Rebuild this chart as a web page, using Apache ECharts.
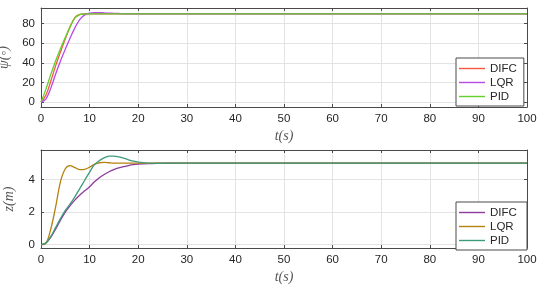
<!DOCTYPE html>
<html>
<head>
<meta charset="utf-8">
<script src="https://cdn.jsdelivr.net/npm/echarts@6/dist/echarts.min.js"></script>
<style>
  html, body { margin: 0; padding: 0; background: #fff; }
  #main { width: 550px; height: 294px; }
</style>
</head>
<body>
<div id="main"></div>
<script>
// time samples (s)
const t = [0, 1, 2, 3, 4, 5, 6, 7, 8, 9, 10, 11, 12, 13, 14, 15, 16, 17, 18, 19, 20,
  22, 24, 26, 28, 30, 40, 50, 60, 70, 80, 90, 100];

// heading psi (deg)
const psiDIFC = [0, 7, 21, 37, 51, 64.5, 77, 86.5, 89.5, 90, 90, 90, 90, 90, 90, 90, 90, 90, 90, 90, 90,
  90, 90, 90, 90, 90, 90, 90, 90, 90, 90, 90, 90];
const psiLQR = [0, 3, 14, 28.5, 42, 54, 65.5, 76, 84.5, 89, 90.8, 91.3, 91.3, 91, 90.8, 90.6, 90.4, 90.2, 90.1, 90, 90,
  90, 90, 90, 90, 90, 90, 90, 90, 90, 90, 90, 90];
const psiPID = [0, 13, 28, 42, 54.5, 66, 77, 86, 89.3, 90, 90, 90, 90, 90, 90, 90, 90, 90, 90, 90, 90,
  90, 90, 90, 90, 90, 90, 90, 90, 90, 90, 90, 90];

// depth z (m)
const zDIFC = [0, 0.1, 0.45, 0.95, 1.5, 2.0, 2.4, 2.75, 3.05, 3.3, 3.55, 3.85, 4.1, 4.3, 4.47, 4.6, 4.7, 4.78, 4.85, 4.9, 4.93,
  4.97, 4.99, 5, 5, 5, 5, 5, 5, 5, 5, 5, 5];
const zLQR = [0, 0.08, 0.95, 2.3, 3.85, 4.65, 4.84, 4.72, 4.6, 4.62, 4.75, 4.92, 5.02, 5.04, 5.02, 5.0, 5, 5, 5, 5, 5,
  5, 5, 5, 5, 5, 5, 5, 5, 5, 5, 5, 5];
const zPID = [0, 0.1, 0.5, 1.05, 1.6, 2.1, 2.5, 2.95, 3.45, 3.95, 4.45, 4.9, 5.15, 5.32, 5.42, 5.43, 5.38, 5.3, 5.2, 5.12, 5.06,
  5.0, 4.98, 4.99, 5, 5, 5, 5, 5, 5, 5, 5, 5];

const frame = '#4a4a4a';
const labelFont = { color: '#262626', fontSize: 11.5, fontFamily: 'Liberation Sans, Arial, sans-serif' };
const nameFont = { color: '#555', fontSize: 14, fontStyle: 'italic', fontFamily: 'Liberation Serif, DejaVu Serif, serif' };

function pairs(vals) {
  return t.map((x, i) => [x, vals[i]]);
}

function xAxes(gi) {
  return [
    {
      type: 'value', gridIndex: gi, min: 0, max: 100, interval: 10, position: 'bottom',
      name: 't(s)', nameLocation: 'middle', nameGap: 22, nameTextStyle: nameFont,
      axisLine: { show: true, onZero: false, lineStyle: { color: frame } },
      axisTick: { show: true, inside: true, length: 3, lineStyle: { color: frame } },
      axisLabel: Object.assign({ margin: 6 }, labelFont),
      splitLine: { show: true, lineStyle: { color: '#e3e3e3' } }
    },
    {
      type: 'value', gridIndex: gi, min: 0, max: 100, interval: 10, position: 'top',
      axisLine: { show: true, onZero: false, lineStyle: { color: frame } },
      axisTick: { show: true, inside: true, length: 3, lineStyle: { color: frame } },
      axisLabel: { show: false },
      splitLine: { show: false }
    }
  ];
}

function yAxes(gi, min, max, split, name) {
  return [
    {
      type: 'value', gridIndex: gi, min: min, max: max, splitNumber: split, position: 'left',
      name: name, nameLocation: 'middle', nameGap: 25, nameTextStyle: nameFont,
      axisLine: { show: true, onZero: false, lineStyle: { color: frame } },
      axisTick: { show: true, inside: true, length: 3, lineStyle: { color: frame } },
      axisLabel: Object.assign({ margin: 6, showMinLabel: false, showMaxLabel: false }, labelFont),
      splitLine: { show: true, lineStyle: { color: '#e3e3e3' } }
    },
    {
      type: 'value', gridIndex: gi, min: min, max: max, splitNumber: split, position: 'right',
      axisLine: { show: true, onZero: false, lineStyle: { color: frame } },
      axisTick: { show: true, inside: true, length: 3, lineStyle: { color: frame } },
      axisLabel: { show: false },
      splitLine: { show: false }
    }
  ];
}

function line(name, vals, color, xi, yi) {
  return {
    name: name, type: 'line', xAxisIndex: xi, yAxisIndex: yi,
    data: pairs(vals), showSymbol: false, symbol: 'none', smooth: 0.35,
    lineStyle: { width: 1.3, color: color }, itemStyle: { color: color },
    animation: false
  };
}

function legend(top, names) {
  return {
    orient: 'vertical', left: 456, top: top,
    width: 62,
    data: names,
    icon: 'rect',
    itemWidth: 26, itemHeight: 1.4, itemGap: 1,
    padding: [4, 7, 3, 3],
    backgroundColor: '#fff', borderColor: frame, borderWidth: 1,
    textStyle: { color: '#262626', fontSize: 11.5, lineHeight: 13, fontFamily: 'Liberation Sans, Arial, sans-serif' }
  };
}

const topColors = ['#f7563e', '#b94ae6', '#62cf2c'];
const botColors = ['#8e3b9e', '#b5820f', '#3f9a7c'];

const chart = echarts.init(document.getElementById('main'), null, { renderer: 'canvas' });
chart.setOption({
  animation: false,
  backgroundColor: '#fff',
  grid: [
    { left: 41, right: 23, top: 8, height: 99, containLabel: false, outerBoundsMode: 'none' },
    { left: 41, right: 23, top: 150, height: 98, containLabel: false, outerBoundsMode: 'none' }
  ],
  xAxis: xAxes(0).concat(xAxes(1)),
  yAxis: yAxes(0, -5, 96, 5, 'ψ(◦)').concat(yAxes(1, -0.2, 5.8, 3, 'z(m)')),
  legend: [
    legend(58, ['DIFC', 'LQR', 'PID']),
    legend(202, ['DIFC ', 'LQR ', 'PID '])
  ],
  series: [
    line('DIFC', psiDIFC, topColors[0], 0, 0),
    line('LQR', psiLQR, topColors[1], 0, 0),
    line('PID', psiPID, topColors[2], 0, 0),
    line('DIFC ', zDIFC, botColors[0], 2, 2),
    line('LQR ', zLQR, botColors[1], 2, 2),
    line('PID ', zPID, botColors[2], 2, 2)
  ]
});
</script>
</body>
</html>
